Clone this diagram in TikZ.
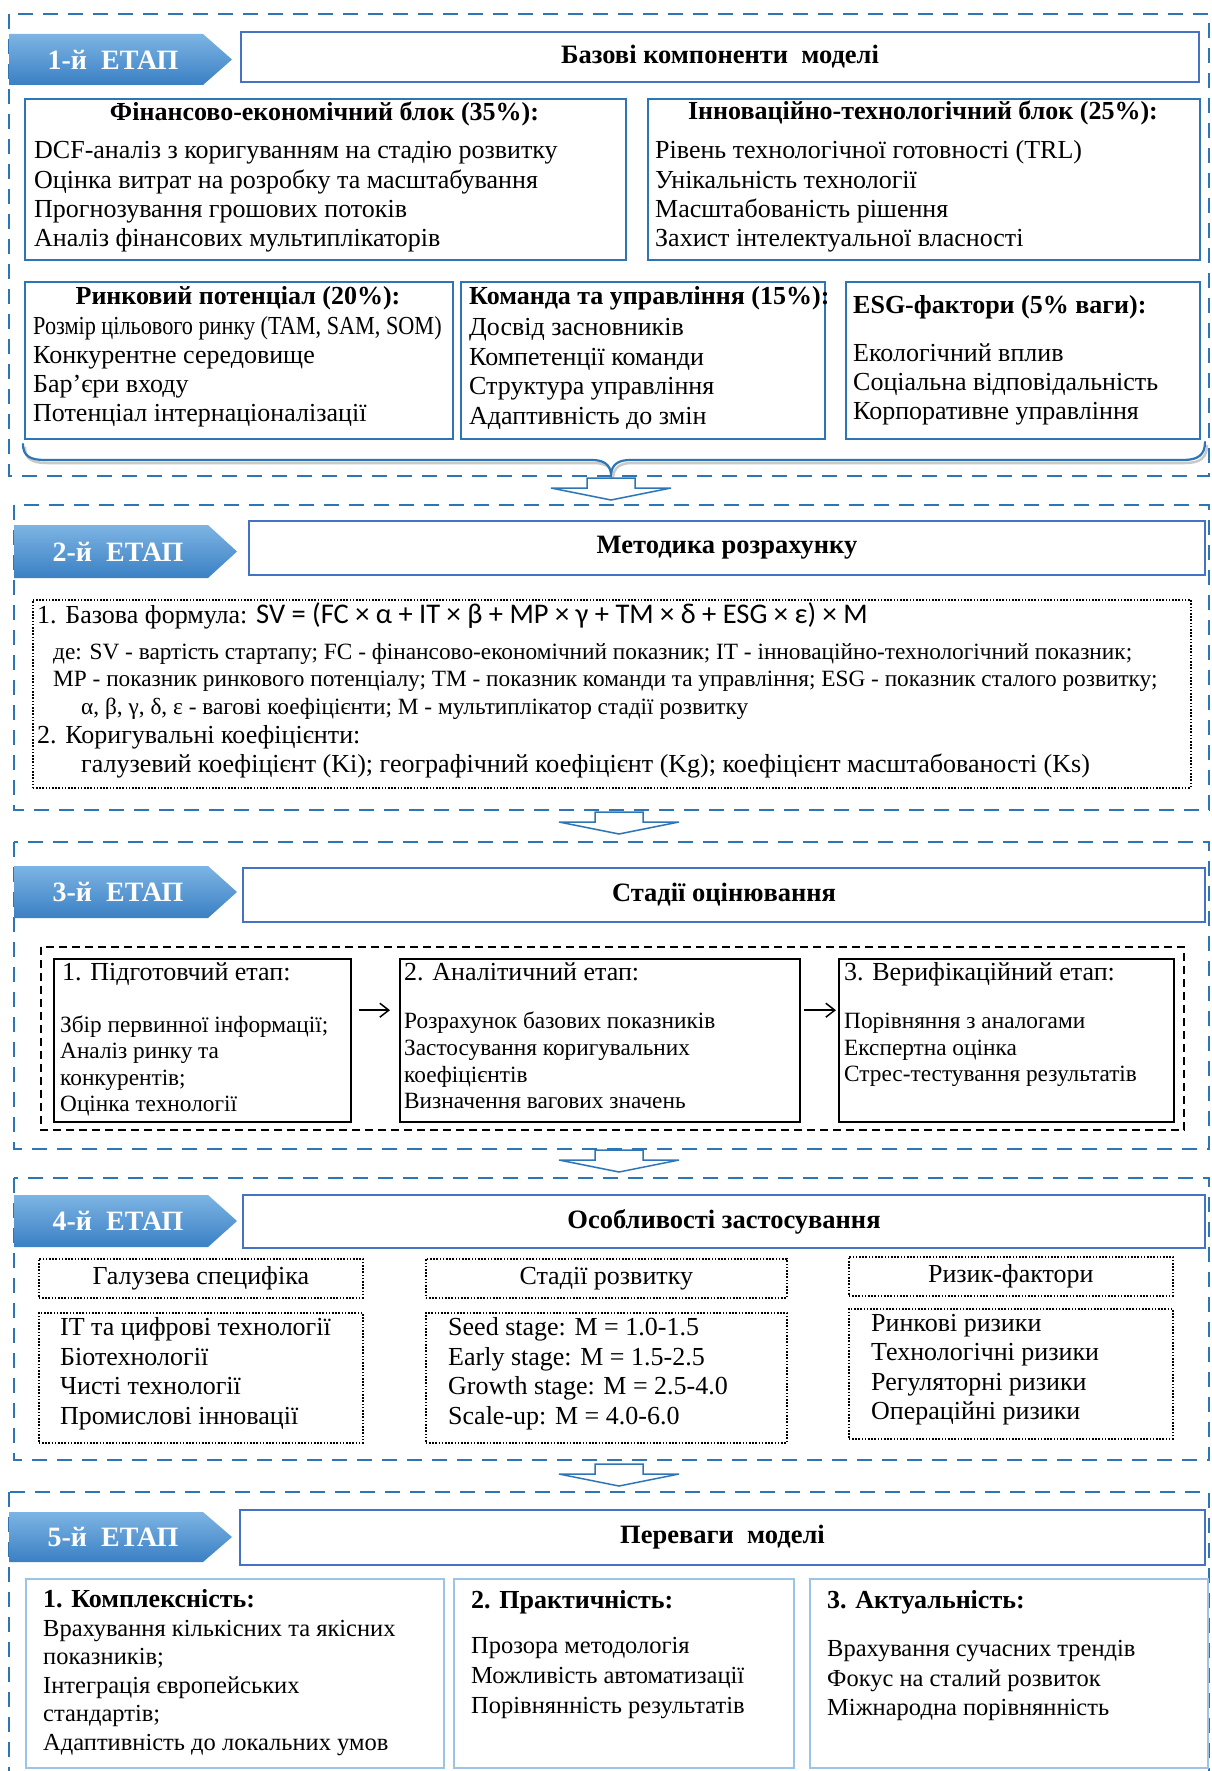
\documentclass[tikz,border=0pt]{standalone}
\usepackage{fontspec}
\usepackage{graphicx}
\setmainfont{Liberation Serif}
\newfontfamily\calib{Carlito}
\usetikzlibrary{arrows.meta}
\definecolor{dblue}{HTML}{2E75B6}
\definecolor{tblue}{HTML}{4472C4}
\definecolor{lblue}{HTML}{9DC3E6}
\definecolor{chtop}{HTML}{7DB4E3}
\definecolor{chbot}{HTML}{3A80C4}
\tikzset{
 outer/.style={draw=dblue, line width=2.2pt, dash pattern=on 15pt off 10pt},
 titlebox/.style={draw=tblue, line width=2pt, fill=white, inner sep=0pt, font=\bfseries\fontsize{26.5}{29}\selectfont},
 blk/.style={draw=dblue, line width=2pt, inner sep=0pt},
 lblk/.style={draw=lblue, line width=2pt, inner sep=0pt},
 dotbox/.style={draw=black, line width=1.6pt, dash pattern=on 1.6pt off 1.6pt, inner sep=0pt},
 blkdash/.style={draw=black, line width=2pt, dash pattern=on 8pt off 5pt},
 blkbox/.style={draw=black, line width=2.4pt, inner sep=0pt},
 txt/.style={anchor=west, inner sep=0pt, text height=18pt, text depth=5pt, font=\fontsize{26}{29}\selectfont},
 stxt/.style={txt, font=\fontsize{23.3}{27}\selectfont},
 mtxt/.style={txt, font=\fontsize{24.5}{28}\selectfont},
 bt/.style={txt, font=\bfseries\fontsize{26}{29}\selectfont},
 btc/.style={bt, anchor=center},
 txc/.style={txt, anchor=center},
 chevtxt/.style={text=white, font=\bfseries\fontsize{28}{30}\selectfont, inner sep=0pt},
 barr/.style={draw=dblue, line width=1.5pt, fill=white, line join=miter},
 brace/.style={draw=dblue, line width=2.2pt, line cap=round},
 sarr/.style={draw=black, line width=1.5pt, -{Straight Barb[length=9pt,width=14pt,line width=1.5pt]}}
}
\newcommand\chev[5]{%
 \shade[top color=chtop, bottom color=chbot] (#2,#3) -- ({#2+194},#3) -- ({#2+223},{(#3+#4)/2}) -- ({#2+194},#4) -- (#2,#4) -- cycle;
 \node[chevtxt] (#1) at ({#2+104},{(#3+#4)/2}) {#5};}
\newcommand\barrow[3]{%
 \draw[barr] ({#2-24},#3) -- ({#2+24},#3) -- ({#2+24},{#3+10}) -- ({#2+60},{#3+10}) -- (#2,{#3+22}) -- ({#2-60},{#3+10}) -- ({#2-24},{#3+10}) -- cycle;
 \coordinate (#1) at (#2,{#3+22});}
\newcommand\boxat[6]{%
 \node[#6, anchor=north west, minimum width={#4-#2}, minimum height={#5-#3}] (#1) at (#2,#3) {};}
\newcommand\txtlines[6]{%
 \foreach \t [count=\i from 0] in {#6} {\node[#2] (#1\i) at (#3,{#4+\i*#5}) {\t};}}
\begin{document}
\begin{tikzpicture}[x=1pt,y=-1pt]
\useasboundingbox (0,0) rectangle (1211,1771);
\clip (0,0) rectangle (1211,1771);
\fill[white] (0,0) rectangle (1211,1771);
% ---------- outer dashed frames
\draw[outer] (9,14) rectangle (1209,476);
\draw[outer] (14,505) rectangle (1209,810);
\draw[outer] (14,842) rectangle (1209,1149);
\draw[outer] (14,1178) rectangle (1209,1460);
\draw[outer] (9,1492) rectangle (1209,1800);
% ---------- STAGE 1
\chev{s1}{9}{34}{85}{1-й~~ЕТАП}
\node[titlebox, minimum width=958pt, minimum height=50pt] (t1) at (720,57) {Базові компоненти\ \ моделі};
\boxat{fin}{24}{98}{625}{259}{blk}
\boxat{inn}{647}{98}{1199}{259}{blk}
\boxat{mkt}{24}{281}{452}{438}{blk}
\boxat{team}{460}{281}{824}{438}{blk}
\boxat{esg}{845}{281}{1199}{438}{blk}
\node[btc] (finT) at (324.5,114) {Фінансово-економічний блок (35\%):};
\txtlines{finL}{txt}{34}{152.5}{29.3}{DCF-аналіз з коригуванням на стадію розвитку, Оцінка витрат на розробку та масштабування, Прогнозування грошових потоків, Аналіз фінансових мультиплікаторів}
\node[btc] (innT) at (923,113) {Інноваційно-технологічний блок (25\%):};
\txtlines{innL}{txt}{655}{152.5}{29.3}{Рівень технологічної готовності (TRL), Унікальність технології, Масштабованість рішення, Захист інтелектуальної власності}
\node[btc] (mktT) at (238,298) {Ринковий потенціал (20\%):};
\node[txt] (mktL0) at (33,328) {\scalebox{0.855}[1]{Розмір цільового ринку (TAM, SAM, SOM)}};
\txtlines{mktL}{txt}{33}{356.5}{29}{Конкурентне середовище, Бар'єри входу, Потенціал інтернаціоналізації}
\node[bt] (teamT) at (469,298) {Команда та управління (15\%):};
\txtlines{teamL}{txt}{469}{329}{29.5}{Досвід засновників, Компетенції команди, Структура управління, Адаптивність до змін}
\node[bt] (esgT) at (853,307) {ESG-фактори (5\% ваги):};
\txtlines{esgL}{txt}{853}{355}{29}{Екологічний вплив, Соціальна відповідальність, Корпоративне управління}
% brace
\draw[line width=2.5pt, draw=black!35, opacity=0.6, shift={(2,3)}] (23,444) .. controls (23,456) and (30,460) .. (45,460) -- (592,460) .. controls (603,460) and (610,464) .. (611,474) .. controls (612,464) and (619,460) .. (630,460) -- (1183,460) .. controls (1198,460) and (1205,455) .. (1205,442);
\draw[brace] (23,444) .. controls (23,456) and (30,460) .. (45,460) -- (592,460) .. controls (603,460) and (610,464) .. (611,474) .. controls (612,464) and (619,460) .. (630,460) -- (1183,460) .. controls (1198,460) and (1205,455) .. (1205,442);
\barrow{a1}{611}{478}
% ---------- STAGE 2
\chev{s2}{14}{525}{578}{2-й~~ЕТАП}
\node[titlebox, minimum width=956pt, minimum height=54pt] (t2) at (727,548) {Методика розрахунку};
\boxat{form}{32}{599}{1190}{787}{dotbox}
\node[txt] (f1) at (37,617) {1. Базова формула: {\calib\fontsize{28.5}{30}\selectfont SV = (FC × α + IT × β + MP × γ + TM × δ + ESG × ε) × M}};
\node[stxt] (f2) at (53,653) {де: SV - вартість стартапу; FC - фінансово-економічний показник; IT - інноваційно-технологічний показник;};
\node[stxt] (f3) at (53,680) {MP - показник ринкового потенціалу; TM - показник команди та управління; ESG - показник сталого розвитку;};
\node[stxt] (f4) at (81,708) {α, β, γ, δ, ε - вагові коефіцієнти; M - мультиплікатор стадії розвитку};
\node[txt] (f5) at (37,737) {2. Коригувальні коефіцієнти:};
\node[txt] (f6) at (81,766) {галузевий коефіцієнт (Ki); географічний коефіцієнт (Kg); коефіцієнт масштабованості (Ks)};
\barrow{a2}{619}{812}
% ---------- STAGE 3
\chev{s3}{14}{866}{918}{3-й~~ЕТАП}
\node[titlebox, minimum width=962pt, minimum height=54pt] (t3) at (724,895) {Стадії оцінювання};
\draw[blkdash] (41,947) rectangle (1184,1130);
\boxat{b1}{53}{958}{350}{1121}{blkbox}
\boxat{b2}{399}{958}{799}{1121}{blkbox}
\boxat{b3}{838}{958}{1173}{1121}{blkbox}
\node[txt] (b1T) at (62,974) {1. Підготовчий етап:};
\txtlines{b1L}{stxt}{60}{1026}{26.4}{Збір первинної інформації;, Аналіз ринку та, конкурентів;, Оцінка технології}
\node[txt] (b2T) at (404,974) {2. Аналітичний етап:};
\txtlines{b2L}{stxt}{404}{1022}{26.8}{Розрахунок базових показників, Застосування коригувальних, коефіцієнтів, Визначення вагових значень}
\node[txt] (b3T) at (844,974) {3. Верифікаційний етап:};
\txtlines{b3L}{stxt}{844}{1022}{26.5}{Порівняння з аналогами, Експертна оцінка, Стрес-тестування результатів}
\draw[sarr, shorten <=7pt, shorten >=9pt] ([yshift=30.5pt]b1.east) -- ([yshift=30.5pt]b2.west);
\draw[sarr, shorten <=3pt, shorten >=2pt] ([yshift=30.5pt]b2.east) -- ([yshift=30.5pt]b3.west);
\barrow{a3}{619}{1150}
% ---------- STAGE 4
\chev{s4}{14}{1195}{1247}{4-й~~ЕТАП}
\node[titlebox, minimum width=962pt, minimum height=53pt] (t4) at (724,1221.5) {Особливості застосування};
\boxat{h1}{38}{1258}{362}{1297}{dotbox}
\boxat{l1}{38}{1312}{362}{1442}{dotbox}
\boxat{h2}{425}{1258}{786}{1297}{dotbox}
\boxat{l2}{425}{1312}{786}{1442}{dotbox}
\boxat{h3}{848}{1256}{1172}{1295}{dotbox}
\boxat{l3}{848}{1308}{1172}{1438}{dotbox}
\node[txc] (h1t) at (h1.center) {Галузева специфіка};
\node[txc] (h2t) at (h2.center) {Стадії розвитку};
\node[txc] (h3t) at (h3.center) {Ризик-фактори};
\txtlines{l1L}{txt}{60}{1329}{29.6}{IT та цифрові технології, Біотехнології, Чисті технології, Промислові інновації}
\txtlines{l2L}{txt}{448}{1329}{29.6}{Seed stage: M = 1.0-1.5, Early stage: M = 1.5-2.5, Growth stage: M = 2.5-4.0, Scale-up: M = 4.0-6.0}
\txtlines{l3L}{txt}{871}{1325}{29.4}{Ринкові ризики, Технологічні ризики, Регуляторні ризики, Операційні ризики}
\barrow{a4}{619}{1464}
% ---------- STAGE 5
\chev{s5}{9}{1512}{1562}{5-й~~ЕТАП}
\node[titlebox, minimum width=965pt, minimum height=55pt] (t5) at (722.5,1537.5) {Переваги\ \ моделі};
\boxat{c1}{25}{1578}{443}{1767}{lblk}
\boxat{c2}{453}{1578}{793}{1767}{lblk}
\boxat{c3}{809}{1578}{1207}{1767}{lblk}
\node[bt] (c1T) at (43,1601) {1. Комплексність:};
\txtlines{c1L}{mtxt}{43}{1630}{28.4}{Врахування кількісних та якісних, показників;, Інтеграція європейських, стандартів;, Адаптивність до локальних умов}
\node[bt] (c2T) at (471,1602) {2. Практичність:};
\txtlines{c2L}{mtxt}{471}{1647}{30}{Прозора методологія, Можливість автоматизації, Порівнянність результатів}
\node[bt] (c3T) at (827,1602) {3. Актуальність:};
\txtlines{c3L}{mtxt}{827}{1650}{29.5}{Врахування сучасних трендів, Фокус на сталий розвиток, Міжнародна порівнянність}
\end{tikzpicture}
\end{document}
